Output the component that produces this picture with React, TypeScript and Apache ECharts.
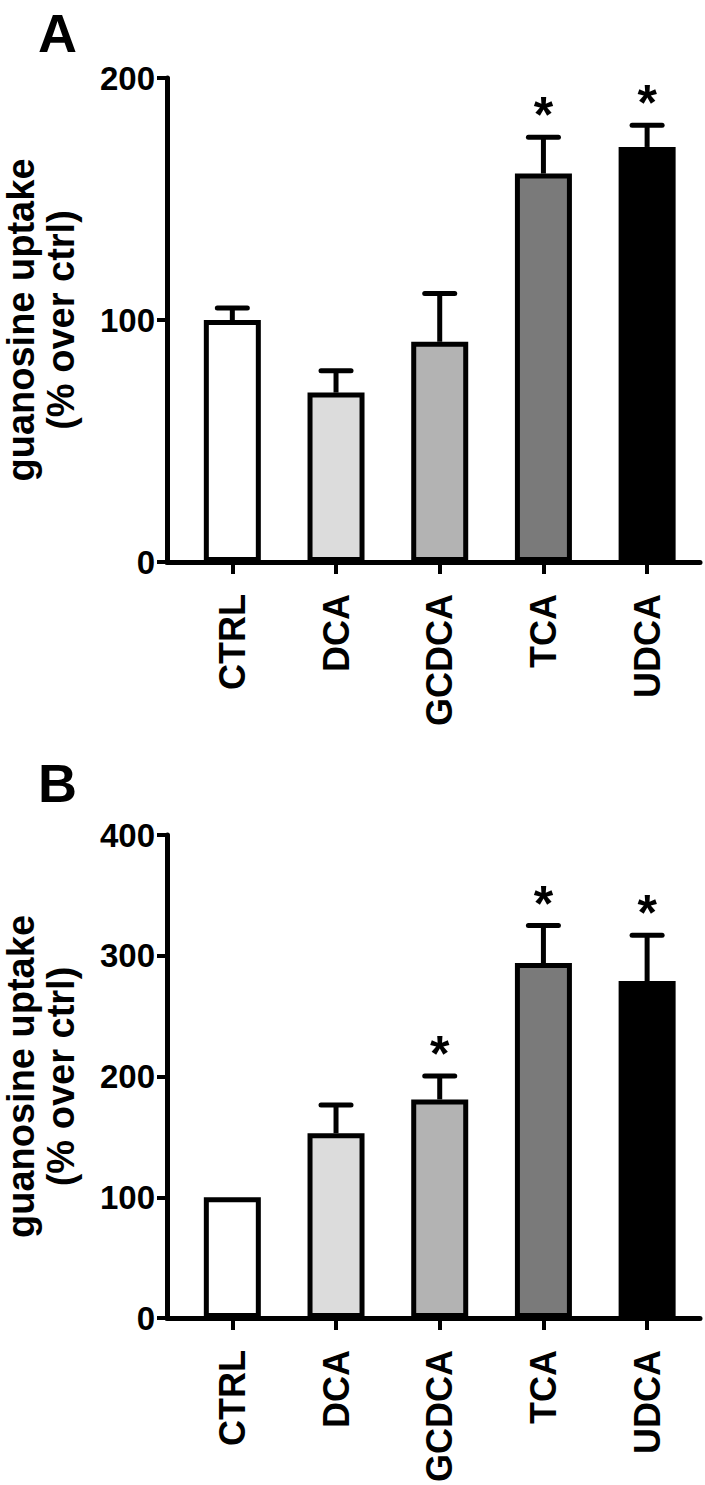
import React, { useEffect, useRef } from 'react';
import * as echarts from 'echarts';

const categories = ['CTRL', 'DCA', 'GCDCA', 'TCA', 'UDCA'];
const meanA = [100, 70, 91, 160.5, 171.5];
const semA = [5, 9, 20, 15, 9];
const sigA = [0, 0, 0, 1, 1];
const meanB = [100, 153, 181, 294, 279];
const semB = [0, 23.5, 19.5, 31, 38];
const sigB = [0, 0, 1, 1, 1];
const ticksA = [0, 100, 200];
const ticksB = [0, 100, 200, 300, 400];
const panelLetters = ['A', 'B'];
const yName = 'guanosine uptake\n(% over ctrl)';
const barFills = ['#ffffff', '#dcdcdc', '#b3b3b3', '#7a7a7a', '#000000'];

const FONT = 'Arial, "Liberation Sans", Helvetica, sans-serif';

function buildOption() {
  const panels = [
    { mean: meanA, sem: semA, sig: sigA, ticks: ticksA, grid: { left: 167, top: 78, width: 533, height: 484 } },
    { mean: meanB, sem: semB, sig: sigB, ticks: ticksB, grid: { left: 167, top: 835, width: 533, height: 483 } },
  ];
  const idx = categories.map((_, i) => i);
  const grid: any[] = [];
  const xAxis: any[] = [];
  const yAxis: any[] = [];
  const series: any[] = [];
  panels.forEach((p, gi) => {
    grid.push({ ...p.grid, containLabel: false, outerBoundsMode: 'none' });
    xAxis.push({
      type: 'value',
      gridIndex: gi,
      min: -0.63,
      max: 4.51,
      axisLine: { show: true, onZero: false, lineStyle: { color: '#000', width: 5 } },
      axisTick: { show: true, customValues: idx, length: 12, lineStyle: { color: '#000', width: 4 } },
      axisLabel: {
        show: true,
        customValues: idx,
        formatter: (v: number) => categories[Math.round(v)] ?? '',
        rotate: 90,
        margin: 32,
        color: '#000',
        fontSize: 36,
        fontWeight: 'bold',
        fontFamily: FONT,
      },
      splitLine: { show: false },
    });
    yAxis.push({
      type: 'value',
      gridIndex: gi,
      min: p.ticks[0],
      max: p.ticks[p.ticks.length - 1],
      interval: p.ticks[1] - p.ticks[0],
      axisLine: { show: true, onZero: false, lineStyle: { color: '#000', width: 5 } },
      axisTick: { show: true, length: 10, lineStyle: { color: '#000', width: 4 } },
      axisLabel: { color: '#000', fontSize: 33, fontWeight: 'bold', fontFamily: FONT, margin: 12 },
      splitLine: { show: false },
      name: yName,
      nameLocation: 'middle',
      nameRotate: 90,
      nameGap: 86,
      nameTextStyle: { color: '#000', fontSize: 38, fontWeight: 'bold', fontFamily: FONT, lineHeight: 40 },
    });
    series.push({
      type: 'bar',
      xAxisIndex: gi,
      yAxisIndex: gi,
      barWidth: 57,
      itemStyle: { borderColor: '#000', borderWidth: 5 },
      data: p.mean.map((m, i) => ({ value: [i, m], itemStyle: { color: barFills[i], borderColor: '#000', borderWidth: 5 } })),
      silent: true,
    });
    series.push({
      type: 'custom',
      xAxisIndex: gi,
      yAxisIndex: gi,
      clip: false,
      silent: true,
      encode: { x: 0, y: 2 },
      data: p.mean.map((m, i) => [i, m, m + p.sem[i], p.sig[i]]),
      renderItem: (params: any, api: any) => {
        const x = api.value(0);
        const m = api.value(1);
        const t = api.value(2);
        const s = api.value(3);
        const p0 = api.coord([x, m]);
        const p1 = api.coord([x, t]);
        const children: any[] = [];
        if (t > m) {
          children.push({ type: 'line', shape: { x1: p0[0], y1: p0[1], x2: p1[0], y2: p1[1] }, style: { stroke: '#000', lineWidth: 5 } });
          children.push({ type: 'line', shape: { x1: p1[0] - 15, y1: p1[1], x2: p1[0] + 15, y2: p1[1] }, style: { stroke: '#000', lineWidth: 5, lineCap: 'round' } });
        }
        if (s) {
          children.push({
            type: 'text',
            x: p1[0],
            y: p1[1] - 22,
            style: { text: '*', fontSize: 50, fontWeight: 'bold', fontFamily: FONT, fill: '#000', align: 'center', verticalAlign: 'middle' },
          });
        }
        return { type: 'group', children };
      },
    });
  });
  return {
    animation: false,
    backgroundColor: '#ffffff',
    grid,
    xAxis,
    yAxis,
    series,
    graphic: [
      { type: 'text', left: 38, top: 6, style: { text: panelLetters[0], fontSize: 54, fontWeight: 'bold', fontFamily: FONT, fill: '#000' } },
      { type: 'text', left: 38, top: 756, style: { text: panelLetters[1], fontSize: 54, fontWeight: 'bold', fontFamily: FONT, fill: '#000' } },
    ],
  };
}

export default function App() {
  const ref = useRef<HTMLDivElement>(null);
  useEffect(() => {
    if (!ref.current) return;
    const chart = echarts.init(ref.current, null, { renderer: 'svg' });
    chart.setOption(buildOption() as any);
    return () => chart.dispose();
  }, []);
  return <div ref={ref} style={{ position: 'absolute', left: 0, top: 0, width: 705, height: 1485, background: '#fff' }} />;
}
